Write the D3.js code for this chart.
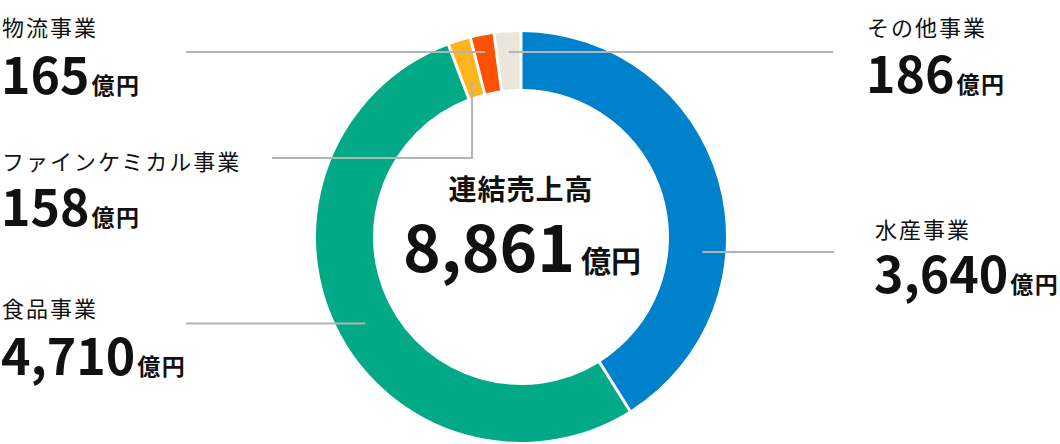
<!DOCTYPE html>
<html><head><meta charset="utf-8">
<script src="https://cdn.jsdelivr.net/npm/d3@7"></script>
<style>
html,body{margin:0;padding:0;background:#fff;}
svg{display:block;}
text{font-family:"Noto Sans CJK JP","Noto Sans",sans-serif;fill:#111;}
</style></head>
<body>
<svg id="chart" width="1060" height="444"></svg>
<script>
// data (clockwise from 12 o'clock)
const segments = ["水産事業", "食品事業", "ファインケミカル事業", "物流事業", "その他事業"];
const values = [3640, 4710, 158, 165, 186];
const valueLabels = ["3,640", "4,710", "158", "165", "186"];
const colors = ["#0081CC", "#02A986", "#FFB51F", "#FF5200", "#ECE5DB"];
const totalTitle = "連結売上高";
const totalLabel = "8,861";
const unit = "億円";

// layout
const W = 1060, H = 444;
const cx = 521, cy = 237, rOuter = 205, rInner = 148;
const layout = [
  {x: 875, y: 238, vy: 293, lineY: 252, lineX2: 834, mode: "h", r: 182},
  {x: 2,   y: 317, vy: 375, lineY: 323.5, lineX2: 186, mode: "h", r: 178},
  {x: 2,   y: 170, vy: 226, lineY: 158, lineX2: 272, mode: "v", r: 163},
  {x: 2,   y: 36,  vy: 94,  lineY: 52, lineX2: 186, mode: "mid", r: 189},
  {x: 867, y: 36,  vy: 93,  lineY: 52, lineX2: 833, mode: "mid", r: 185}
];

const svg = d3.select("#chart");
const g = svg.append("g").attr("transform", `translate(${cx},${cy})`);

const pie = d3.pie().sort(null).value(d => d)(values);
const arc = d3.arc().innerRadius(rInner).outerRadius(rOuter)
  .padAngle(3 / rOuter).padRadius(rOuter);

g.selectAll("path.slice").data(pie).join("path")
  .attr("class", "slice")
  .attr("d", arc)
  .attr("fill", (d, i) => colors[i]);

// leader lines
const lineColor = "#b4b4b4";
pie.forEach((d, i) => {
  const L = layout[i];
  const mid = (d.startAngle + d.endAngle) / 2;
  let pts;
  const ly = L.lineY - cy;
  const side = Math.sin(mid) >= 0 ? 1 : -1;
  if (L.mode === "h") {
    const x0 = side * Math.sqrt(L.r * L.r - ly * ly);
    pts = [[x0, ly], [L.lineX2 - cx, ly]];
  } else if (L.mode === "mid") {
    const px = L.r * Math.sin(mid);
    pts = [[px, ly], [L.lineX2 - cx, ly]];
  } else {
    const px = L.r * Math.sin(mid), py = -L.r * Math.cos(mid);
    pts = [[px, py], [px, ly], [L.lineX2 - cx, ly]];
  }
  g.append("path")
    .attr("d", d3.line()(pts))
    .attr("fill", "none")
    .attr("stroke", lineColor)
    .attr("stroke-width", 2);
});

// labels
const labelG = svg.append("g");
segments.forEach((name, i) => {
  const L = layout[i];
  labelG.append("text")
    .attr("x", L.x).attr("y", L.y)
    .attr("font-size", 22)
    .attr("letter-spacing", "2px")
    .text(name);
  const t = labelG.append("text")
    .attr("x", L.x - 1).attr("y", L.vy)
    .attr("font-weight", 700);
  t.append("tspan").attr("font-size", 50).text(valueLabels[i]);
  t.append("tspan").attr("font-size", 23).attr("dx", 2)
    .attr("letter-spacing", "1.5px").text(unit);
});

// center
svg.append("text")
  .attr("x", cx).attr("y", 200)
  .attr("text-anchor", "middle")
  .attr("font-size", 28).attr("font-weight", 700)
  .attr("letter-spacing", "1px")
  .text(totalTitle);
const ct = svg.append("text")
  .attr("x", cx + 1).attr("y", 272)
  .attr("text-anchor", "middle")
  .attr("font-weight", 700);
ct.append("tspan").attr("font-size", 64).text(totalLabel);
ct.append("tspan").attr("font-size", 30).attr("dx", 6).text(unit);
</script>
</body></html>
